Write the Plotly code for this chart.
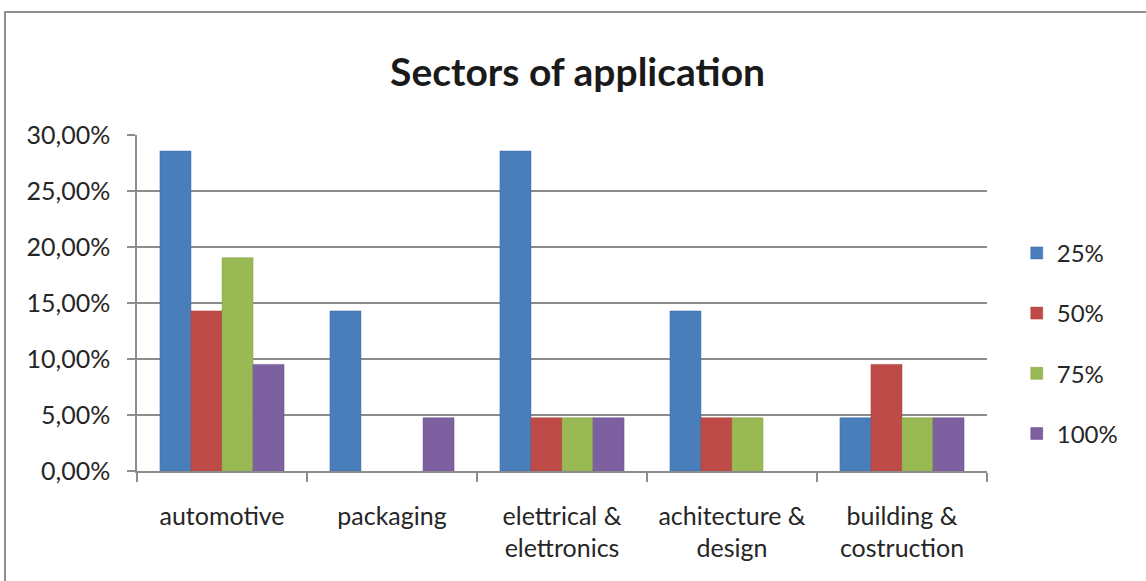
import plotly.graph_objects as go

# Share of respondents per sector of application, by adoption level
categories = ["automotive", "packaging", "elettrical &<br>elettronics",
              "achitecture &<br>design", "building &<br>costruction"]
series_names = ["25%", "50%", "75%", "100%"]
values_25 = [0.2857, 0.1429, 0.2857, 0.1429, 0.0476]
values_50 = [0.1429, None, 0.0476, 0.0476, 0.0952]
values_75 = [0.1905, None, 0.0476, 0.0476, 0.0476]
values_100 = [0.0952, 0.0476, 0.0476, None, 0.0476]
y_ticks = [0, 0.05, 0.10, 0.15, 0.20, 0.25, 0.30]

colors = ["#4A7EBB", "#BE4B48", "#98B954", "#7D60A0"]
edge_colors = ["#3A6DA8", "#A9403D", "#86A747", "#6C5290"]
all_values = [values_25, values_50, values_75, values_100]

FONT = "Lato, 'Open Sans', sans-serif"
TEXT = "#262626"
GRID = "#8C8C8C"

fig = go.Figure()
for i, (name, vals) in enumerate(zip(series_names, all_values)):
    fig.add_trace(go.Bar(
        x=categories, y=vals, name=name,
        legendgroup=name,
        marker=dict(color=colors[i], line=dict(color=edge_colors[i], width=0.5)),
    ))

fig.update_layout(
    width=1146, height=581,
    margin=dict(l=137, r=159, t=135, b=110),
    paper_bgcolor="white", plot_bgcolor="white",
    separators=",.",
    barmode="group", bargap=0.27, bargroupgap=0,
    title=dict(text="<b>Sectors of application</b>", x=0.504, xanchor="center",
               y=0.875, yanchor="middle",
               font=dict(family=FONT, size=39, color="#1a1a1a")),
    font=dict(family=FONT, size=24, color=TEXT),
    legend=dict(x=1.035, xanchor="left", y=0.38, yanchor="middle",
                font=dict(size=24, color=TEXT), tracegroupgap=26,
                itemwidth=30, bgcolor="rgba(0,0,0,0)"),
    xaxis=dict(type="category", tickson="boundaries", ticks="outside",
               ticklen=9, tickcolor=GRID, tickwidth=1.5,
               showline=True, linecolor=GRID, linewidth=1.5,
               showgrid=False, ticklabelstandoff=22,
               tickfont=dict(size=25, color=TEXT)),
    yaxis=dict(range=[0, 0.30], tickvals=y_ticks, tickformat=".2%",
               ticks="outside", ticklen=8, tickcolor=GRID, tickwidth=1.5,
               showline=True, linecolor=GRID, linewidth=1.5,
               showgrid=True, gridcolor=GRID, gridwidth=1.5,
               zeroline=False, ticklabelstandoff=12,
               tickfont=dict(size=25, color=TEXT)),
)

# Outer chart-area frame
fig.add_shape(type="rect", xref="paper", yref="paper",
              x0=(5 - 137) / 850, x1=(1160 - 137) / 850,
              y0=(471 - 600) / 336, y1=(471 - 12) / 336,
              line=dict(color="#8F8F8F", width=2), layer="below")

fig.write_html("out.html")
